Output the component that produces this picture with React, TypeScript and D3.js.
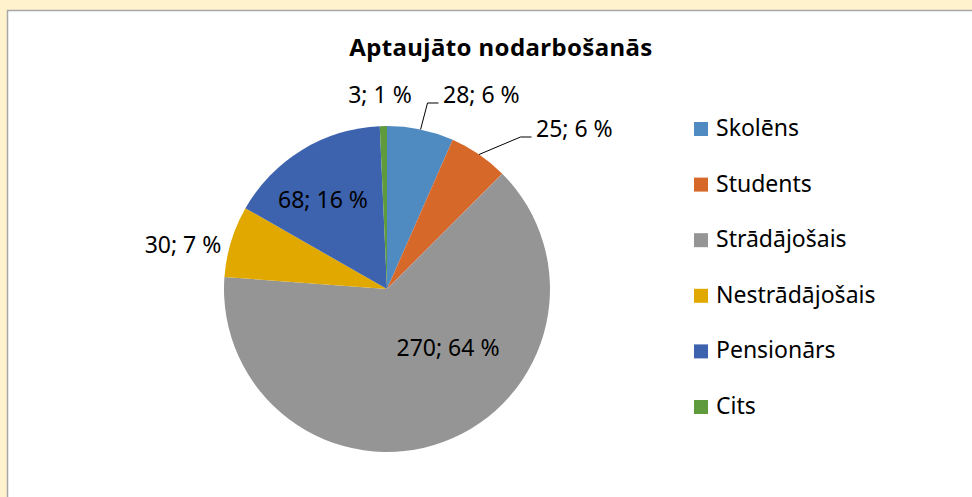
import React from "react";
import * as d3 from "d3";

const categories = ["Skolēns", "Students", "Strādājošais", "Nestrādājošais", "Pensionārs", "Cits"];
const values = [28, 25, 270, 30, 68, 3];
const percentLabels = ["6 %", "6 %", "64 %", "7 %", "16 %", "1 %"];
const colors = ["#4F8AC0", "#D6692A", "#959595", "#E1A900", "#3D63AE", "#5F9B3C"];

// label placement relative to pie centre (dx, baseline dy, anchor, leader)
const labelLayout = [
  { dx: 56, dy: -186, anchor: "start", leader: true },
  { dx: 149, dy: -152, anchor: "start", leader: true },
  { dx: 61, dy: 67, anchor: "middle", leader: false },
  { dx: -204, dy: -36, anchor: "middle", leader: false },
  { dx: -64, dy: -81, anchor: "middle", leader: false },
  { dx: -7, dy: -186, anchor: "middle", leader: false },
];

const W = 972;
const H = 497;
const cx = 387;
const cy = 289;
const R = 163;
const FONT = "'Noto Sans', sans-serif";

export default function App() {
  const pie = d3.pie<number>().sort(null).value((d) => d)(values);
  const arc = d3.arc<d3.PieArcDatum<number>>().innerRadius(0).outerRadius(R);
  const legendY = d3.scalePoint<string>().domain(categories).range([136, 414]);

  return (
    <svg width={W} height={H} style={{ position: "absolute", left: 0, top: 0 }}>
      <rect x={0} y={0} width={W} height={H} fill="#FFF2CC" />
      <rect x={7.5} y={10.5} width={W + 10} height={H + 10} fill="#FFFFFF" stroke="#A6A6A6" strokeWidth={1.5} />
      <text x={501} y={56} textAnchor="middle" fontFamily={FONT} fontWeight="bold" fontSize={24} letterSpacing={0.4} fill="#000">
        Aptaujāto nodarbošanās
      </text>
      <g transform={`translate(${cx},${cy})`}>
        {pie.map((p, i) => (
          <path key={i} d={arc(p) || ""} fill={colors[i]} />
        ))}
        {pie.map((p, i) => {
          const L = labelLayout[i];
          if (!L.leader) return null;
          const m = (p.startAngle + p.endAngle) / 2;
          const sx = Math.sin(m) * R;
          const sy = -Math.cos(m) * R;
          const ex = L.dx - 4.5;
          const elx = ex - 11;
          return (
            <polyline
              key={"l" + i}
              points={`${sx},${sy} ${elx},${L.dy} ${ex},${L.dy}`}
              fill="none"
              stroke="#000"
              strokeWidth={1}
            />
          );
        })}
        {pie.map((p, i) => {
          const L = labelLayout[i];
          return (
            <text key={"t" + i} x={L.dx} y={L.dy} textAnchor={L.anchor} fontFamily={FONT} fontSize={23} fill="#000">
              {`${values[i]}; ${percentLabels[i]}`}
            </text>
          );
        })}
      </g>
      {categories.map((c, i) => (
        <g key={c}>
          <rect x={694} y={(legendY(c) as number) - 14} width={14} height={14} fill={colors[i]} />
          <text x={716} y={legendY(c)} fontFamily={FONT} fontSize={23} fill="#000">
            {c}
          </text>
        </g>
      ))}
    </svg>
  );
}
